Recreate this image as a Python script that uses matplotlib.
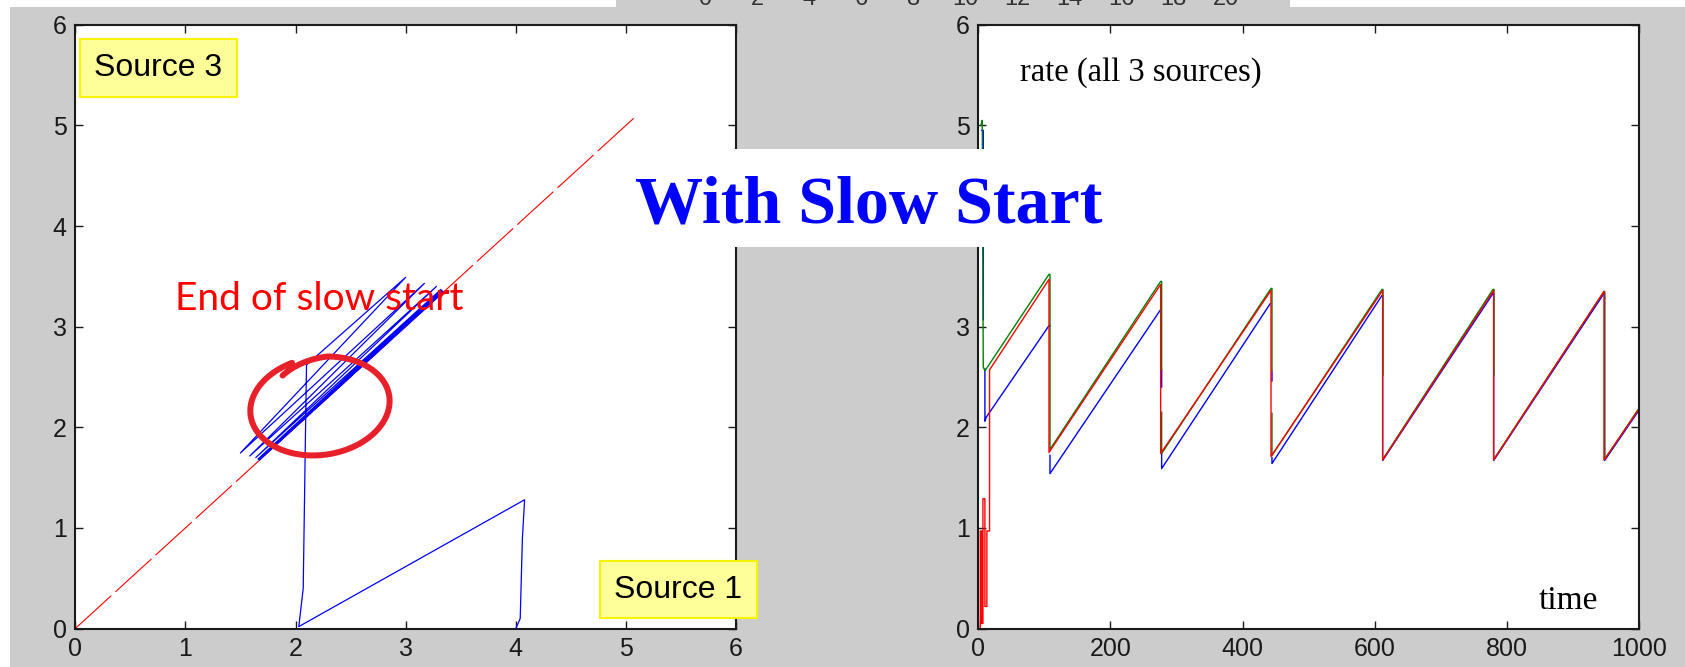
import numpy as np
import matplotlib
matplotlib.use('Agg')
import matplotlib.pyplot as plt
from matplotlib.patches import Rectangle

W, H = 1685, 667
nan = np.nan

plt.rcParams.update({
    'font.family': ['Liberation Sans', 'DejaVu Sans'],
    'font.size': 18,
    'axes.linewidth': 1.5,
    'axes.edgecolor': '#1a1a1a',
})

# -------------------------------------------------
# Left panel: Source 1 rate (x) vs Source 3 rate (y)
# -------------------------------------------------
src1 = [4.00, 4.04, 4.06, 4.08, 2.03, 2.07, 2.09, 2.10, 3.00, 1.50,
        3.17, 1.585, 3.28, 1.64, 3.32, 1.66, 3.33, 1.665, 3.34, 1.67, 3.345]
src3 = [0.00, 0.10, 0.90, 1.28, 0.02, 0.40, 1.90, 2.62, 3.49, 1.745,
        3.43, 1.715, 3.40, 1.70, 3.37, 1.685, 3.36, 1.68, 3.35, 1.675, 3.345]
fair_x = [0.0, 5.07]
fair_y = [0.0, 5.07]
ticks_phase = [0, 1, 2, 3, 4, 5, 6]

# -------------------------------------------------
# Right panel: rate of all 3 sources over time
# -------------------------------------------------
t_blue = [5, 7.5, 7.5, nan, 10, 10, 12, 107, 108.5, nan, 108.5, 108.5,
          275, nan, 277.5, 277.5, nan, 277.5, 277.5, 442, nan, 444.5, 444.5,
          nan, 444.5, 444.5, 611, 612, 612, 779, 780, 780, 947, 948, 948, 1000]
rate_blue = [4.95, 4.95, 3.07, nan, 2.58, 2.06, 2.10, 3.01, 3.01, nan, 1.72, 1.54,
             3.16, nan, 2.57, 2.40, nan, 1.74, 1.59, 3.23, nan, 2.55, 2.46,
             nan, 1.70, 1.64, 3.31, 3.31, 1.67, 3.33, 3.33, 1.67, 3.33, 3.33, 1.67, 2.17]

t_green = [4, 6, 7.5, 10, 107, 108.5, 108.5, 276, 277.5, 277.5, nan, 277.5, 277.5,
           443, 444.5, 444.5, nan, 444.5, 444.5, 611, 612.5, 612.5, nan, 613, 779,
           780.5, 780.5, nan, 781, 947, 948, 948, 1000]
rate_green = [5.00, 5.05, 2.60, 2.56, 3.52, 3.52, 1.78, 3.45, 3.45, 2.57, nan, 2.15, 1.74,
              3.38, 3.38, 2.56, nan, 2.14, 1.72, 3.37, 3.37, 2.52, nan, 1.69, 3.37,
              3.37, 2.52, nan, 1.69, 3.35, 3.35, 1.68, 2.19]

t_red = [0, 3, 3, 5, 5, 7, 7, 10, 10, 13, 13, 17, 17, 107, 107, 276, 276,
         443, 443, 612, 612, 780, 780, 947, 947, 1000]
rate_red = [0, 0, 0.97, 0.97, 0.05, 0.05, 1.29, 1.29, 0.22, 0.22, 0.97, 0.97, 2.57,
            3.47, 1.75, 3.42, 1.74, 3.36, 1.71, 3.36, 1.675, 3.36, 1.675, 3.35, 1.675, 2.18]

ticks_time = [0, 200, 400, 600, 800, 1000]
ticks_rate = [0, 1, 2, 3, 4, 5, 6]
strip_ticks = [0, 2, 4, 6, 8, 10, 12, 14, 16, 18, 20]


def fig_box(x0, y0, x1, y1):
    """pixel box (top-left origin) -> figure fraction rect"""
    return [x0 / W, 1 - y1 / H, (x1 - x0) / W, (y1 - y0) / H]


def style_axes(ax):
    ax.tick_params(direction='in', length=5.5, width=1, top=True, right=True,
                   labelsize=18, pad=6, colors='#1a1a1a')
    ax.set_facecolor('white')


fig = plt.figure(figsize=(W / 100, H / 100), dpi=100, facecolor='white')

# grey slide background
fig.add_artist(Rectangle((10 / W, 0), 1 - 10 / W, 1 - 7 / H, transform=fig.transFigure,
                         facecolor='#cccccc', edgecolor='none', zorder=-10))

# cut-off strip of another axis at the very top
axs = fig.add_axes(fig_box(616, 0, 1290, 7))
axs.set_facecolor('#cccccc')
axs.set_xticks([])
axs.set_yticks([])
for sp in axs.spines.values():
    sp.set_visible(False)
axs.set_xlim(-3.42, 22.46)
axs.set_ylim(0, 1)
for v in strip_ticks:
    axs.text(v, 0.3, str(v), ha='center', va='baseline', fontsize=17,
             color='#333333', clip_on=True)

# ---- left panel ----
ax1 = fig.add_axes(fig_box(75.2, 24.7, 736.1, 628.6))
style_axes(ax1)
ax1.plot(fair_x, fair_y, color='#ff0000', lw=0.8, dashes=(44, 5), zorder=2)
ax1.plot(src1, src3, color='#0000ff', lw=0.9, zorder=3)
ax1.set_xlim(0, 6)
ax1.set_ylim(0, 6)
ax1.set_xticks(ticks_phase)
ax1.set_yticks(ticks_phase)

ax1.text(0.906, 3.166, 'End of slow start', color='#ff0000', fontsize=28,
         family=['Lato', 'DejaVu Sans'], va='baseline', ha='left', zorder=4)

# hand-drawn red loop around the end of slow start
ang = np.radians(np.linspace(123, -252, 400))
r = np.clip(0.86 + (123 - np.degrees(ang)) / 45 * 0.14, None, 1.0)
px_x = r * 70 * np.cos(ang)
px_y = r * 49 * np.sin(ang)
tilt = np.radians(8)
rot_x = px_x * np.cos(tilt) - px_y * np.sin(tilt)
rot_y = px_x * np.sin(tilt) + px_y * np.cos(tilt)
ax1.plot(2.222 + rot_x / 110.15, 2.212 + rot_y / 100.65, color='#e8202a', lw=4.3,
         solid_capstyle='round', zorder=5)

# ---- right panel ----
ax2 = fig.add_axes(fig_box(978.3, 24.7, 1639, 628.6))
style_axes(ax2)
ax2.plot(t_blue, rate_blue, color='#0000ff', lw=1.0)
ax2.plot(t_green, rate_green, color='#008000', lw=1.0)
ax2.plot(t_red, rate_red, color='#ff0000', lw=1.0)
ax2.set_xlim(0, 1000)
ax2.set_ylim(0, 6)
ax2.set_xticks(ticks_time)
ax2.set_yticks(ticks_rate)
ax2.text(63, 5.44, 'rate (all 3 sources)', fontsize=23.5, va='baseline',
         family=['Liberation Serif', 'DejaVu Serif'])
ax2.text(848, 0.195, 'time', fontsize=24, va='baseline',
         family=['Liberation Serif', 'DejaVu Serif'])

# ---- slide annotations on top ----
for (x0, y0, x1, y1, label) in [(80, 39, 237, 97, 'Source 3'),
                                (600, 561, 757, 618, 'Source 1')]:
    fig.add_artist(Rectangle((x0 / W, 1 - y1 / H), (x1 - x0) / W, (y1 - y0) / H,
                             transform=fig.transFigure, facecolor='#ffff99',
                             edgecolor='#f5f500', lw=1.5, zorder=6))
    fig.text((x0 + x1) / 2 / W, 1 - (y0 + y1) / 2 / H, label, ha='center', va='center',
             fontsize=23, color='black', zorder=7)

fig.add_artist(Rectangle((616 / W, 1 - 247 / H), (1125 - 616) / W, (247 - 149) / H,
                         transform=fig.transFigure, facecolor='white',
                         edgecolor='none', zorder=6))
fig.text(869 / W, 1 - 223 / H, 'With Slow Start', ha='center', va='baseline',
         fontsize=49, fontweight='bold', color='#0000ff',
         family=['Liberation Serif', 'DejaVu Serif'], zorder=7)

fig.savefig('out.png', dpi=100)
plt.close(fig)
